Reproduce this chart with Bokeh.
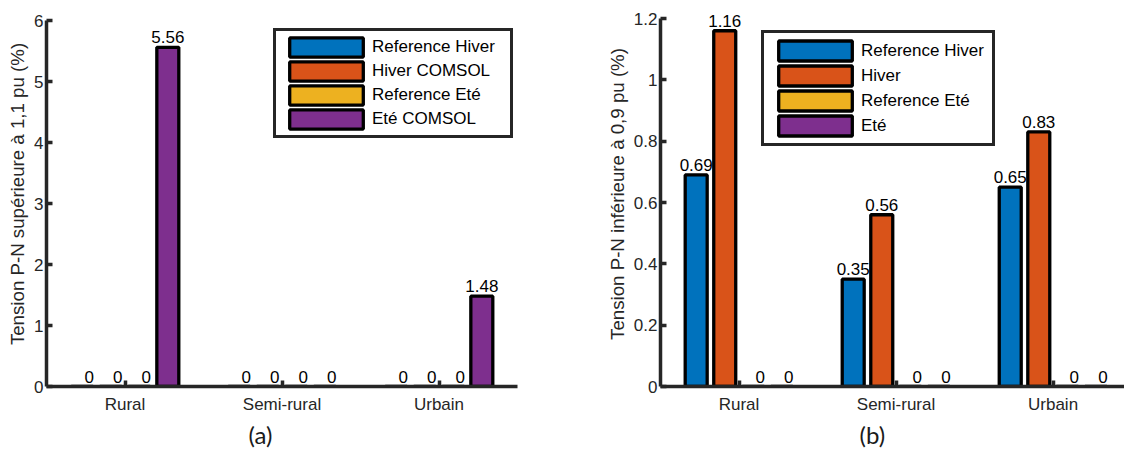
from bokeh.plotting import figure
from bokeh.layouts import row
from bokeh.models import Range1d, FixedTicker, Legend, LegendItem, ColumnDataSource, Title
from bokeh.transform import dodge
from bokeh.core.properties import value
from bokeh.embed import file_html
from bokeh.resources import INLINE

# ---------------- data ----------------
categories = ["Rural", "Semi-rural", "Urbain"]

series_a = ["Reference Hiver", "Hiver COMSOL", "Reference Eté", "Eté COMSOL"]
ref_hiver_a = [0, 0, 0]
hiver_comsol_a = [0, 0, 0]
ref_ete_a = [0, 0, 0]
ete_comsol_a = [5.56, 0, 1.48]

series_b = ["Reference Hiver", "Hiver", "Reference Eté", "Eté"]
ref_hiver_b = [0.69, 0.35, 0.65]
hiver_b = [1.16, 0.56, 0.83]
ref_ete_b = [0, 0, 0]
ete_b = [0, 0, 0]

yticks_a = [0, 1, 2, 3, 4, 5, 6]
ytick_labels_a = ["0", "1", "2", "3", "4", "5", "6"]
yticks_b = [0, 0.2, 0.4, 0.6, 0.8, 1, 1.2]
ytick_labels_b = ["0", "0.2", "0.4", "0.6", "0.8", "1", "1.2"]

ylabel_a = "Tension P-N supérieure à 1,1 pu (%)"
ylabel_b = "Tension P-N inférieure à 0,9 pu (%)"

# ---------------- style ----------------
colors = ["#0072BD", "#D95319", "#EDB120", "#7E2F8E"]
offsets = [-0.2727, -0.0909, 0.0909, 0.2727]
FONT = "Liberation Sans"
AX = "#262626"
H = 466
BOTTOM = 386  # frame bottom (px from top)


def make_chart(series_names, series_values, yticks, ytick_labels, ylabel, ymax,
               ytop_px, xend, width, border_left, border_right, tag, tag_offset,
               legend_loc, leg):
    # frame starts 1px from the top so labels above the highest bar are not clipped;
    # the axis line itself is bounded to the data range
    frame_h = BOTTOM - 1
    yend = ymax * frame_h / (BOTTOM - ytop_px)
    p = figure(width=width, height=H, output_backend="svg", toolbar_location=None,
               x_range=Range1d(0.5, xend), y_range=Range1d(0, yend),
               min_border_left=border_left, min_border_right=border_right,
               min_border_top=1, min_border_bottom=H - BOTTOM)
    p.outline_line_color = None
    p.grid.visible = False
    p.background_fill_color = "white"
    p.border_fill_color = "white"

    xs = list(range(1, len(categories) + 1))
    items = []
    for name, vals, col, off in zip(series_names, series_values, colors, offsets):
        src = ColumnDataSource(dict(
            x=xs, top=vals,
            label=[f"{v:g}" for v in vals],
            xoff=[7 if v == 0 else 0 for v in vals],
        ))
        r = p.vbar(x=dodge("x", off), top="top", bottom=0, width=0.14, source=src,
                   fill_color=col, line_color="black", line_width=3.3)
        p.text(x=dodge("x", off), y="top", text="label", source=src,
               text_align="center", text_baseline="bottom", y_offset=-4,
               x_offset="xoff", text_font=value(FONT), text_font_size="17px",
               text_color="black")
        items.append(LegendItem(label=name, renderers=[r]))

    legend = Legend(items=items, location=legend_loc,
                    padding=leg["pad"], spacing=leg["spacing"],
                    glyph_width=leg["gw"], glyph_height=leg["gh"],
                    label_height=leg["gh"], label_width=leg["lw"],
                    label_standoff=leg["standoff"], margin=0,
                    label_text_font=FONT, label_text_font_size="17px",
                    label_text_color="black",
                    border_line_color=AX, border_line_width=3.5, border_line_alpha=1,
                    background_fill_color="white", background_fill_alpha=1)
    p.add_layout(legend)

    xa = p.xaxis[0]
    xa.ticker = FixedTicker(ticks=xs)
    xa.major_label_overrides = {x: c for x, c in zip(xs, categories)}
    ya = p.yaxis[0]
    ya.ticker = FixedTicker(ticks=yticks)
    ya.major_label_overrides = {t: l for t, l in zip(yticks, ytick_labels)}
    ya.bounds = (0, ymax)
    ya.axis_label = ylabel
    for ax in (xa, ya):
        ax.axis_line_color = AX
        ax.axis_line_width = 3.5
        ax.major_tick_line_color = AX
        ax.major_tick_line_width = 3.5
        ax.major_tick_in = 6
        ax.major_tick_out = 0
        ax.minor_tick_line_color = None
        ax.major_label_text_font = FONT
        ax.major_label_text_font_size = "17px"
        ax.major_label_text_color = AX
        ax.axis_label_text_font = FONT
        ax.axis_label_text_font_size = "18.7px"
        ax.axis_label_text_font_style = "normal"
        ax.axis_label_text_color = AX
    xa.major_label_standoff = 8
    ya.major_label_standoff = 3
    ya.axis_label_standoff = 3

    t = Title(text=tag, align="left", offset=tag_offset, text_font="Lato",
              text_font_size="24px", text_font_style="normal", text_color="#1a1a1a",
              standoff=3)
    p.add_layout(t, "below")
    return p


p1 = make_chart(series_a, [ref_hiver_a, hiver_comsol_a, ref_ete_a, ete_comsol_a],
                yticks_a, ytick_labels_a, ylabel_a, 6, 20, 3.5,
                568, 46, 51, "(a)", 202, (227, 248),
                dict(pad=4, spacing=0, gw=92, gh=24, lw=134, standoff=-5))
p2 = make_chart(series_b, [ref_hiver_b, hiver_b, ref_ete_b, ete_b],
                yticks_b, ytick_labels_b, ylabel_b, 1.2, 18, 3.455,
                556, 92, 0, "(b)", 199, (101, 240),
                dict(pad=5, spacing=0, gw=92, gh=25, lw=126, standoff=-5))

layout = row(p1, p2)
open("out.html", "w").write(file_html(layout, INLINE))
